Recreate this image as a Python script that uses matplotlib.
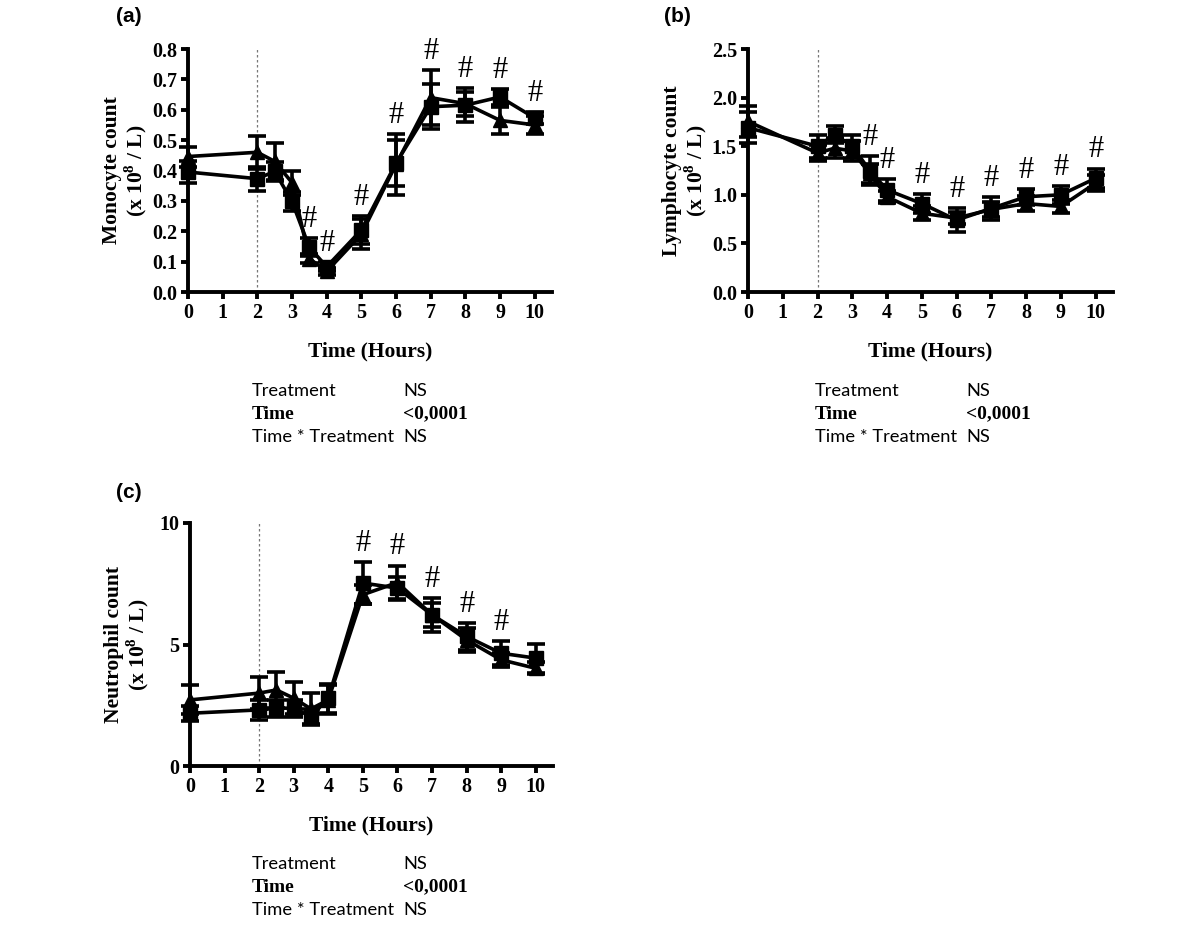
import numpy as np
import matplotlib
matplotlib.use("Agg")
import matplotlib.pyplot as plt

plt.rcParams['mathtext.fontset'] = 'custom'
plt.rcParams['mathtext.rm'] = 'Liberation Serif:bold'
plt.rcParams['mathtext.bf'] = 'Liberation Serif:bold'

# time points (hours)
hours = [0, 2, 2.5, 3, 3.5, 4, 5, 6, 7, 8, 9, 10]

# (a) monocytes
mono_tri = [0.446, 0.46, 0.43, 0.36, 0.11, 0.068, 0.19, 0.42, 0.64, 0.62, 0.565, 0.55]
mono_tri_err = [0.033, 0.055, 0.06, 0.04, 0.015, 0.012, 0.05, 0.1, 0.09, 0.04, 0.045, 0.03]
mono_sq = [0.395, 0.373, 0.397, 0.298, 0.147, 0.083, 0.204, 0.424, 0.61, 0.615, 0.642, 0.573]
mono_sq_err = [0.035, 0.04, 0.03, 0.03, 0.03, 0.015, 0.045, 0.075, 0.075, 0.055, 0.025, 0.02]
mono_sig = [3.5, 4, 5, 6, 7, 8, 9, 10]

# (b) lymphocytes
lymph_tri = [1.755, 1.43, 1.48, 1.45, 1.22, 0.98, 0.81, 0.76, 0.85, 0.91, 0.88, 1.12]
lymph_tri_err = [0.16, 0.08, 0.1, 0.1, 0.1, 0.06, 0.07, 0.06, 0.08, 0.08, 0.07, 0.08]
lymph_sq = [1.69, 1.50, 1.62, 1.50, 1.25, 1.05, 0.91, 0.74, 0.86, 0.98, 1.00, 1.17]
lymph_sq_err = [0.16, 0.12, 0.09, 0.12, 0.15, 0.11, 0.1, 0.12, 0.12, 0.08, 0.09, 0.1]
lymph_sig = [3.5, 4, 5, 6, 7, 8, 9, 10]

# (c) neutrophils
neut_tri = [2.72, 3.0, 3.13, 2.79, 2.35, 2.72, 7.05, 7.55, 6.22, 5.19, 4.37, 4.02]
neut_tri_err = [0.6, 0.65, 0.75, 0.65, 0.65, 0.6, 0.4, 0.7, 0.5, 0.5, 0.3, 0.25]
neut_sq = [2.17, 2.31, 2.38, 2.38, 2.03, 2.79, 7.53, 7.32, 6.22, 5.33, 4.64, 4.44]
neut_sq_err = [0.3, 0.4, 0.35, 0.35, 0.3, 0.6, 0.85, 0.45, 0.7, 0.55, 0.5, 0.6]
neut_sig = [5, 6, 7, 8, 9]

stats_rows = [("Treatment", "NS"), ("Time", "<0,0001"), ("Time * Treatment", "NS")]

W, H = 1200, 926
fig = plt.figure(figsize=(12, 9.26), dpi=100)


def px_axes(left, top, right, bottom):
    return fig.add_axes([left / W, 1 - bottom / H, (right - left) / W, (bottom - top) / H])


def draw_panel(ax, tri, tri_err, sq, sq_err, sig, ymax, yticks, yfmt, ylabel):
    ax.axvline(2, 0, 1, color='#777777', lw=0.9, ls=(0, (2, 2)), zorder=1)
    for y, e, m in [(tri, tri_err, '^'), (sq, sq_err, 's')]:
        ax.errorbar(hours, y, yerr=e, color='black', lw=2.6, marker=m, ms=10,
                    capsize=6.5, capthick=2.6, elinewidth=2.6, clip_on=False, zorder=3)
    tops = {h: max(a + b, c + d) for h, a, b, c, d in zip(hours, tri, tri_err, sq, sq_err)}
    for h in sig:
        ax.annotate('#', (h, tops[h]), xytext=(0, 3), textcoords='offset points',
                    ha='center', va='bottom', fontsize=22, family='Liberation Serif')
    ax.set_xlim(0, 10.5)
    ax.set_ylim(0, ymax)
    ax.set_xticks(range(0, 11))
    ax.set_yticks(yticks)
    ax.set_yticklabels([yfmt.format(v) for v in yticks])
    for s in ['top', 'right']:
        ax.spines[s].set_visible(False)
    for s in ['left', 'bottom']:
        ax.spines[s].set_linewidth(2.8)
    ax.tick_params(width=2.8, length=5, direction='out', pad=3, labelsize=14.5)
    for lab in ax.get_xticklabels() + ax.get_yticklabels():
        lab.set_family('Liberation Serif')
        lab.set_weight('bold')
    ax.set_ylabel(ylabel + '\n(x 10$^{8}$ / L)', family='Liberation Serif',
                  weight='bold', fontsize=15.5, linespacing=1.0)
    ax.yaxis.label.set_va('center')
    ax.yaxis.set_label_coords(-0.172, 0.5)
    ax.set_xlabel('Time (Hours)', family='Liberation Serif', weight='bold', fontsize=15.5)
    ax.xaxis.set_label_coords(0.5, -0.205)
    ax.xaxis.label.set_va('top')


def draw_stats(x_left, x_right, y_top):
    for i, (name, val) in enumerate(stats_rows):
        y = 1 - (y_top + i * 23) / H
        if name == "Time":
            kw = dict(family='Liberation Serif', weight='bold', fontsize=14)
        else:
            kw = dict(family='Lato', fontsize=13.2)
        fig.text(x_left / W, y, name, va='center', ha='left', **kw)
        fig.text(x_right / W, y, val, va='center', ha='left', **kw)


ax_a = px_axes(188, 49, 552, 292)
draw_panel(ax_a, mono_tri, mono_tri_err, mono_sq, mono_sq_err, mono_sig,
           0.8, np.arange(0, 0.81, 0.1), '{:.1f}', 'Monocyte count')
ax_b = px_axes(748, 49, 1113, 292)
draw_panel(ax_b, lymph_tri, lymph_tri_err, lymph_sq, lymph_sq_err, lymph_sig,
           2.5, np.arange(0, 2.51, 0.5), '{:.1f}', 'Lymphocyte count')
ax_c = px_axes(190, 523, 553, 766)
draw_panel(ax_c, neut_tri, neut_tri_err, neut_sq, neut_sq_err, neut_sig,
           10, [0, 5, 10], '{:.0f}', 'Neutrophil count')

draw_stats(252, 403, 391)
draw_stats(815, 966, 391)
draw_stats(252, 403, 864)

for lbl, x, y in [('(a)', 129, 17), ('(b)', 677, 17), ('(c)', 129, 493)]:
    fig.text(x / W, 1 - y / H, lbl, ha='center', va='center', fontsize=15,
             family='Liberation Sans', weight='bold')

fig.savefig('out.png', dpi=100)
